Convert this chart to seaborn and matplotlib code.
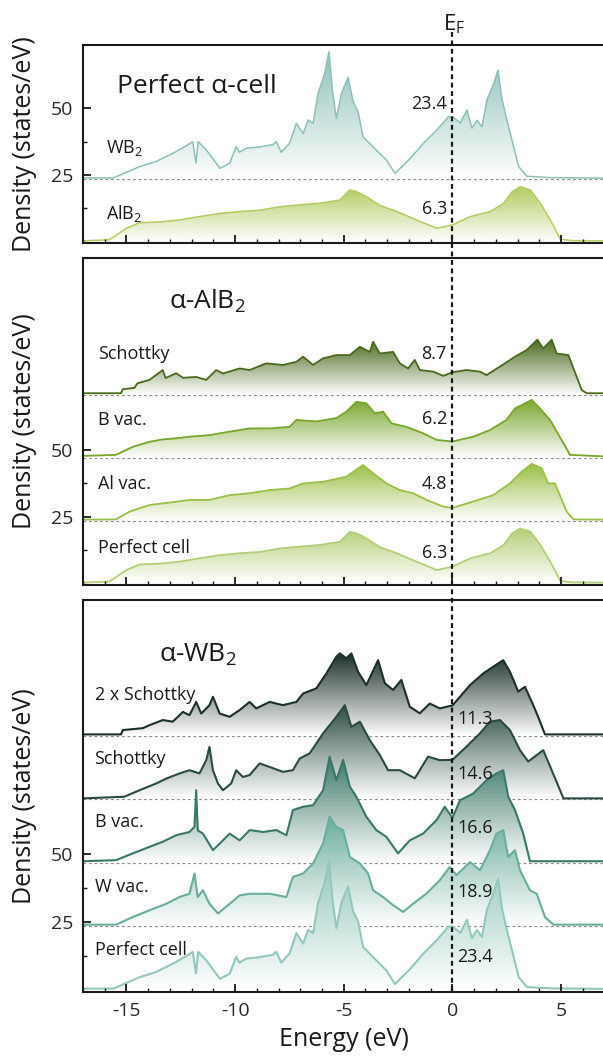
import numpy as np
import matplotlib
matplotlib.use("Agg")
import matplotlib.pyplot as plt
import seaborn as sns
from matplotlib.patches import Polygon
from matplotlib.lines import Line2D
from matplotlib.ticker import MultipleLocator
import matplotlib.transforms as mtransforms
from matplotlib.colors import to_rgb

sns.set_theme(style="white")
plt.rcParams["font.family"] = ["Open Sans", "DejaVu Sans"]
plt.rcParams["mathtext.fontset"] = "custom"
plt.rcParams["mathtext.rm"] = "Open Sans"
plt.rcParams["mathtext.it"] = "Open Sans:italic"
plt.rcParams["mathtext.default"] = "regular"
plt.rcParams["axes.unicode_minus"] = False

# ---------------- data (energy in eV, DOS in states/eV above each baseline) -------------
E_wb2 = [-17.0, -15.6, -14.4, -13.65, -12.87, -12.25, -11.95, -11.8, -11.7, -11.33, -10.7, -10.25,
         -9.95, -9.8, -9.49, -8.87, -8.26, -8.1, -7.88, -7.49, -7.18, -6.87, -6.64, -6.41, -6.18,
         -5.88, -5.68, -5.52, -5.34, -5.11, -4.80, -4.57, -4.34, -4.11, -3.65, -3.04, -2.64, -1.94,
         -1.33, -0.71, -0.18, 0.0, 0.36, 0.67, 0.9, 1.13, 1.36, 1.59, 1.9, 2.1, 2.28, 2.51, 2.74,
         3.05, 3.43, 4.5, 7.0]
D_wb2 = [0.4, 0.4, 4.6, 6.5, 9.6, 12.4, 14.0, 6.0, 14.0, 10.9, 4.0, 5.9,
         12.1, 10.0, 11.5, 12.0, 12.9, 14.0, 10.0, 13.4, 20.9, 17.0, 22.1, 20.9, 32.1,
         39.5, 47.7, 33.3, 22.7, 32.0, 38.1, 29.0, 25.2, 15.8, 12.0, 7.1, 2.1, 7.7,
         13.4, 18.4, 23.3, 23.4, 21.0, 25.8, 19.0, 22.0, 19.5, 29.6, 35.8, 40.8, 30.0, 22.0, 14.6,
         4.6, 1.0, 0.5, 0.3]

E_alb2 = [-17.0, -15.78, -15.0, -14.4, -13.5, -12.6, -11.64, -10.7, -9.8, -8.87, -7.95, -7.03,
          -6.11, -5.18, -4.72, -4.42, -3.96, -3.34, -2.56, -1.64, -0.71, 0.0, 0.82, 1.74, 2.36,
          2.74, 3.12, 3.59, 4.05, 4.59, 4.97, 5.5, 7.0]
D_alb2 = [0.3, 0.7, 5.0, 7.1, 7.4, 8.1, 9.4, 10.6, 11.3, 11.8, 13.1, 13.8,
          14.4, 15.6, 19.4, 18.8, 16.9, 13.6, 11.3, 8.1, 5.0, 6.3, 9.4, 11.3, 14.4,
          18.7, 20.6, 19.4, 14.4, 6.9, 0.9, 0.4, 0.3]

# alpha-AlB2 defects
E_al_schottky = [-17.0, -15.25, -15.17, -14.63, -14.5, -13.94, -13.33, -13.2, -12.71, -12.4, -11.79,
                 -11.33, -10.87, -10.56, -9.79, -9.33, -8.57, -7.8, -7.18, -6.87, -6.41, -5.95,
                 -5.34, -4.72, -4.26, -3.8, -3.65, -3.34, -2.73, -2.42, -2.04, -1.73, -1.5, -0.88,
                 -0.42, 0.0, 0.65, 1.27, 1.57, 2.19, 2.88, 3.42, 3.91, 4.18, 4.57, 4.8, 5.34, 5.95,
                 6.18, 7.0]
D_al_schottky = [0.8, 0.8, 2.3, 2.8, 4.5, 5.8, 9.5, 6.5, 8.3, 6.6, 6.9,
                 5.8, 9.5, 8.2, 10.1, 9.5, 12.0, 11.4, 12.6, 14.5, 11.4, 13.9,
                 15.1, 15.1, 18.2, 16.3, 20.1, 15.7, 16.3, 12.0, 10.1, 13.3, 9.5, 8.9,
                 7.3, 8.7, 9.5, 8.9, 7.6, 10.8, 14.5, 17.0, 20.9, 17.6, 20.9, 15.7, 15.1, 2.0,
                 0.8, 0.8]
E_al_bvac = [-17.0, -15.48, -14.71, -13.94, -13.33, -12.71, -12.1, -11.18, -10.25, -9.33, -8.41,
             -7.49, -7.18, -6.26, -5.34, -4.88, -4.42, -3.96, -3.57, -3.19, -2.8, -2.12, -1.35,
             -0.73, 0.0, 0.96, 1.73, 2.49, 2.88, 3.34, 3.65, 4.03, 4.49, 5.11, 5.41, 7.0]
D_al_bvac = [0.8, 1.2, 4.2, 6.1, 7.0, 7.4, 8.0, 8.6, 9.9, 11.1, 11.1,
             11.7, 14.3, 13.7, 15.0, 17.4, 21.1, 20.5, 16.8, 17.4, 13.0, 11.7, 9.3,
             6.8, 6.2, 8.0, 10.5, 14.3, 18.6, 20.5, 21.8, 18.6, 14.3, 5.6, 1.2, 0.6]
E_al_alvac = [-17.0, -15.48, -14.86, -13.94, -13.02, -12.1, -11.18, -10.25, -9.33, -8.41, -7.49,
              -6.87, -5.95, -4.88, -4.11, -3.65, -3.04, -2.42, -1.81, -1.19, -0.42, 0.0, 0.96,
              1.88, 2.65, 3.19, 3.65, 4.11, 4.41, 4.72, 5.26, 5.57, 7.0]
D_al_alvac = [0.4, 0.5, 3.4, 5.9, 6.8, 7.8, 7.8, 9.6, 10.3, 11.5, 12.1,
              14.0, 14.6, 16.5, 20.9, 17.8, 14.0, 11.5, 10.3, 7.8, 5.3, 4.8, 7.2,
              9.6, 14.0, 18.4, 21.3, 19.7, 14.0, 14.0, 3.4, 0.5, 0.4]

# alpha-WB2 defects
E_w_2schottky = [-17.0, -15.25, -15.17, -14.25, -13.94, -13.33, -12.87, -12.4, -12.1, -11.79, -11.56,
                 -11.18, -11.02, -10.71, -10.25, -9.79, -9.33, -9.03, -8.41, -7.8, -7.18, -6.87,
                 -6.26, -5.8, -5.34, -5.18, -4.88, -4.65, -4.34, -3.96, -3.42, -3.11, -2.73, -2.35,
                 -1.96, -1.5, -1.04, -0.58, 0.0, 0.35, 0.81, 1.42, 1.88, 2.34, 2.65, 3.03, 3.34,
                 3.72, 3.95, 4.26, 7.0]
D_w_2schottky = [0.6, 0.6, 2.2, 2.9, 4.0, 5.9, 5.3, 8.9, 7.7, 12.6, 8.3,
                 11.4, 14.5, 8.3, 7.1, 9.6, 12.6, 10.2, 12.6, 11.4, 12.6, 15.7,
                 17.6, 23.1, 29.3, 30.5, 28.7, 30.5, 23.7, 18.8, 28.0, 19.5, 17.0, 20.7,
                 10.8, 8.4, 12.0, 10.2, 11.3, 14.5, 18.8, 23.1, 25.6, 28.0, 23.7, 16.4, 18.2,
                 11.4, 7.0, 0.6, 0.6]
E_w_schottky = [-17.0, -15.1, -14.4, -13.63, -13.17, -12.56, -12.1, -11.64, -11.33, -11.18, -11.02,
                -10.79, -10.56, -10.18, -9.95, -9.64, -9.33, -8.87, -8.41, -7.8, -7.34, -7.03,
                -6.57, -5.95, -5.34, -4.95, -4.65, -4.26, -3.8, -3.34, -2.96, -2.42, -1.73, -1.12,
                -0.58, 0.0, 0.65, 1.27, 1.73, 2.19, 2.65, 3.11, 3.49, 4.18, 4.57, 5.11, 7.0]
D_w_schottky = [0.4, 1.0, 3.4, 5.9, 7.7, 9.6, 10.8, 9.6, 14.5, 19.4, 10.8,
                5.9, 3.4, 5.9, 10.8, 8.3, 9.0, 13.3, 12.0, 10.2, 10.8, 15.1,
                17.0, 24.4, 30.5, 34.8, 26.8, 28.7, 21.9, 16.4, 10.8, 10.8, 7.8, 15.8,
                14.5, 14.6, 19.5, 24.4, 28.7, 29.3, 25.6, 18.2, 14.0, 18.2, 10.8, 0.4, 0.4]
E_w_bvac = [-17.0, -15.48, -14.71, -13.94, -13.33, -12.71, -12.1, -11.87, -11.79, -11.72, -11.48,
            -11.02, -10.71, -10.25, -9.79, -9.33, -8.72, -8.1, -7.64, -7.34, -6.87, -6.41, -5.95,
            -5.65, -5.34, -5.03, -4.72, -4.42, -3.96, -3.5, -3.04, -2.5, -1.96, -1.35, -0.73,
            -0.35, 0.0, 0.35, 0.96, 1.57, 2.03, 2.34, 2.57, 2.88, 3.26, 3.57, 7.0]
D_w_bvac = [0.6, 1.0, 3.5, 5.9, 7.8, 10.2, 11.4, 13.3, 26.8, 12.0, 10.8,
            4.7, 7.1, 10.8, 8.3, 12.1, 11.4, 12.1, 10.2, 19.5, 20.7, 21.3, 26.8,
            39.2, 30.5, 38.0, 28.1, 24.4, 17.0, 12.1, 9.6, 3.5, 8.3, 10.8, 15.8,
            20.7, 16.6, 23.1, 25.6, 30.5, 33.0, 34.2, 24.4, 19.5, 10.8, 0.6, 0.6]
E_w_wvac = [-17.0, -15.48, -14.71, -13.94, -13.17, -12.56, -12.1, -11.87, -11.72, -11.48, -11.18,
            -10.79, -10.25, -9.79, -9.33, -8.41, -7.64, -7.34, -6.87, -6.41, -5.95, -5.65, -5.34,
            -5.03, -4.72, -4.26, -3.88, -3.65, -3.19, -2.73, -2.27, -1.81, -1.19, -0.58, -0.12,
            0.19, 0.81, 1.27, 1.73, 2.03, 2.34, 2.57, 2.88, 3.11, 3.57, 3.88, 4.26, 4.65, 7.0]
D_w_wvac = [0.6, 0.6, 3.4, 5.9, 8.3, 10.8, 12.0, 19.5, 10.8, 13.3, 8.3,
            4.7, 8.3, 11.4, 12.0, 12.0, 10.8, 18.2, 19.5, 23.2, 30.6, 40.4, 36.7,
            35.5, 25.6, 23.2, 19.5, 13.3, 10.8, 7.8, 5.3, 8.3, 12.1, 17.0, 21.9,
            18.9, 23.7, 20.7, 28.1, 34.2, 35.5, 25.6, 28.1, 20.7, 13.3, 12.0, 3.4, 0.6, 0.6]

# panel contents (bottom curve first)
p1_names = ["AlB$_2$", "WB$_2$"]
p1_values = ["6.3", "23.4"]
p1_offsets = [0.0, 23.5]
p2_names = ["Perfect cell", "Al vac.", "B vac.", "Schottky"]
p2_values = ["6.3", "4.8", "6.2", "8.7"]
p2_offsets = [0.0, 23.5, 47.0, 70.5]
p3_names = ["Perfect cell", "W vac.", "B vac.", "Schottky", "2 x Schottky"]
p3_values = ["23.4", "18.9", "16.6", "14.6", "11.3"]
p3_offsets = [0.0, 23.4, 46.8, 70.2, 93.6]
panel_titles = ["Perfect α-cell", "α-AlB$_2$", "α-WB$_2$"]
x_ticks = [-15, -10, -5, 0, 5]
y_ticks = [25, 50]
y_minor = [12.5, 37.5]

# ---------------- styling -------------
p1_curves = [(E_alb2, D_alb2), (E_wb2, D_wb2)]
p1_colors = ["#b3cc62", "#8ec0b7"]
p2_curves = [(E_alb2, D_alb2), (E_al_alvac, D_al_alvac), (E_al_bvac, D_al_bvac),
             (E_al_schottky, D_al_schottky)]
p2_colors = ["#b4ce77", "#9bbf47", "#78a52b", "#4b691e"]
p3_curves = [(E_wb2, D_wb2), (E_w_wvac, D_w_wvac), (E_w_bvac, D_w_bvac),
             (E_w_schottky, D_w_schottky), (E_w_2schottky, D_w_2schottky)]
p3_colors = ["#94c7bc", "#6aad9d", "#3a7767", "#2a4a42", "#1c2f2a"]

W, H = 603, 1063
fig = plt.figure(figsize=(W / 100, H / 100), dpi=100)
fig.patch.set_facecolor("white")

left_px, right_px = 83, 604.5
panels_px = [(45, 243, (-0.5, 73.7)), (258, 585, (-0.6, 122.0)), (600, 992, (-0.85, 143.8))]
axes = []
for top, bot, yl in panels_px:
    ax = fig.add_axes([left_px / W, 1 - bot / H, (right_px - left_px) / W, (bot - top) / H])
    ax.set_facecolor("white")
    axes.append((ax, yl))

XLIM = (-17.0, 7.0)


def gradient_fill(ax, E, D, off, color, z):
    E = np.asarray(E, float)
    y = off + np.asarray(D, float)
    top = y.max()
    verts = [(E[0], off)] + list(zip(E, y)) + [(E[-1], off)]
    patch = Polygon(verts, closed=True, facecolor="none", edgecolor="none")
    ax.add_patch(patch)
    t = np.linspace(0, 1, 256)[:, None, None]
    rgb = np.array(to_rgb(color))[None, None, :]
    img = (1 - t) * np.ones((1, 1, 3)) + t * rgb
    im = ax.imshow(img, extent=(E[0], E[-1], off, top), origin="lower", aspect="auto",
                   interpolation="bilinear", zorder=z)
    im.set_clip_path(patch)


def draw_panel(ax, yl, curves, colors, offsets, lw):
    n = len(curves)
    for off in offsets:
        if off > 0:
            ax.axhline(off, color="#8c8c8c", lw=0.9, ls=(0, (2.2, 2.2)), zorder=1)
    for i, ((E, D), c, off) in enumerate(zip(curves, colors, offsets)):
        z = 2 + 2 * (n - 1 - i)
        gradient_fill(ax, E, D, off, c, z)
        sns.lineplot(x=np.asarray(E), y=off + np.asarray(D), ax=ax, color=c, lw=lw,
                     estimator=None, sort=False, legend=False, zorder=z + 1)
    ax.set_xlim(*XLIM)
    ax.set_ylim(*yl)
    ax.set_xlabel("")
    ax.set_ylabel("")
    ax.xaxis.set_major_locator(MultipleLocator(5))
    ax.xaxis.set_minor_locator(MultipleLocator(1))
    ax.set_yticks(y_ticks)
    ax.set_yticks(y_minor, minor=True)
    ax.tick_params(axis="both", which="both", direction="in", top=False, right=False,
                   bottom=True, left=True, colors="#1a1a1a", labelcolor="#2a2a2a")
    ax.tick_params(axis="both", which="major", length=6, width=1.3, labelsize=14, pad=7)
    ax.tick_params(axis="both", which="minor", length=3.2, width=1.0)
    ax.xaxis.set_zorder(40)
    ax.yaxis.set_zorder(40)
    for s in ["left", "top", "bottom"]:
        ax.spines[s].set_linewidth(1.5)
        ax.spines[s].set_color("#1a1a1a")
        ax.spines[s].set_zorder(41)
    ax.spines["right"].set_visible(False)


draw_panel(axes[0][0], axes[0][1], p1_curves, p1_colors, p1_offsets, 1.1)
draw_panel(axes[1][0], axes[1][1], p2_curves, p2_colors, p2_offsets, 1.3)
draw_panel(axes[2][0], axes[2][1], p3_curves, p3_colors, p3_offsets, 1.5)
ax1, ax2, ax3 = axes[0][0], axes[1][0], axes[2][0]
ax1.tick_params(axis="x", labelbottom=False)
ax2.tick_params(axis="x", labelbottom=False)
ax3.set_xticks(x_ticks)

txt_kw = dict(fontsize=13, color="#1a1a1a", zorder=30)
# panel 1 texts
ax1.text(-15.45, 55.6, panel_titles[0], fontsize=19, color="#1a1a1a", va="baseline", zorder=30)
for name, yv in zip(p1_names, [8.5, 33.4]):
    ax1.text(-15.95, yv, name, va="baseline", **txt_kw)
for val, yv in zip(p1_values, [10.4, 49.6]):
    ax1.text(-0.25, yv, val, ha="right", va="baseline", **txt_kw)
# panel 2 texts
ax2.text(-13.05, 103.1, panel_titles[1], fontsize=19, color="#1a1a1a", va="baseline", zorder=30)
for name, yv in zip(p2_names, [11.5, 35.3, 59.4, 84.0]):
    ax2.text(-16.3, yv, name, va="baseline", **txt_kw)
for val, yv in zip(p2_values, [9.4, 35.3, 59.6, 84.0]):
    ax2.text(-0.25, yv, val, ha="right", va="baseline", **txt_kw)
# panel 3 texts
ax3.text(-13.48, 121.0, panel_titles[2], fontsize=19, color="#1a1a1a", va="baseline", zorder=30)
for name, yv in zip(p3_names, [12.7, 36.1, 60.1, 83.2, 106.9]):
    ax3.text(-16.47, yv, name, va="baseline", **txt_kw)
for val, yv in zip(p3_values, [10.2, 34.2, 57.9, 77.6, 98.0]):
    ax3.text(0.22, yv, val, ha="left", va="baseline", **txt_kw)

# y labels and x label
for (top, bot, _) in panels_px:
    fig.text(25 / W, 1 - ((top + bot) / 2) / H, "Density (states/eV)", rotation=90,
             ha="center", va="center", fontsize=18, color="#1a1a1a")
fig.text(344 / W, 1 - 1040 / H, "Energy (eV)", ha="center", va="center", fontsize=18,
         color="#1a1a1a")

# Fermi level line across all panels
blend = mtransforms.blended_transform_factory(ax3.transData, fig.transFigure)
ef = Line2D([0, 0], [1 - 32 / H, 1 - 992 / H], transform=blend, color="#1a1a1a", lw=1.6,
            ls=(0, (2.2, 1.6)), zorder=20)
fig.add_artist(ef)
fig.text(0.08, 1 - 30.7 / H, "E$_F$", transform=blend, ha="center", va="baseline",
         fontsize=16, color="#1a1a1a")

fig.savefig("out.png", dpi=100, facecolor="white")
